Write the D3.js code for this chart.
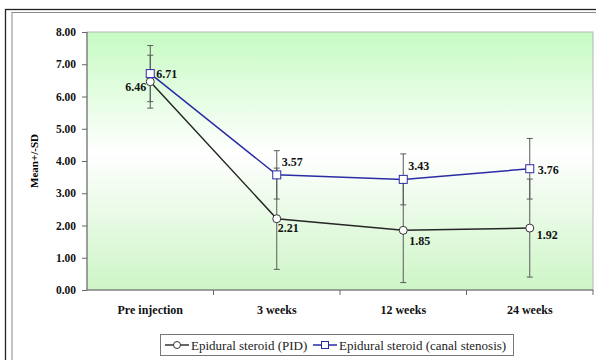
<!DOCTYPE html>
<html lang="en">
<head>
<meta charset="UTF-8">
<title>Mean +/- SD</title>
<script src="https://d3js.org/d3.v7.min.js"></script>
<style>
    body { margin: 0; background: #fff; }
    svg { display: block; font-family: 'Liberation Serif', 'DejaVu Serif', serif; }
    .axis text { font-family: 'Liberation Serif', 'DejaVu Serif', serif; font-size: 11.5px; font-weight: bold; fill: #111; }
    .axis path, .axis line { stroke: #666; }
    .lbl { font-size: 12px; font-weight: bold; fill: #111; }
</style>
</head>
<body>
<div id="chart"></div>
<script>
// data
const categories = ["Pre injection", "3 weeks", "12 weeks", "24 weeks"];
const pidMean = [6.46, 2.21, 1.85, 1.92];
const pidSD = [0.82, 1.57, 1.62, 1.52];
const canalMean = [6.71, 3.57, 3.43, 3.76];
const canalSD = [0.87, 0.75, 0.79, 0.94];
const yTicks = [0, 1, 2, 3, 4, 5, 6, 7, 8];
const seriesNames = ["Epidural steroid (PID)", "Epidural steroid (canal stenosis)"];

const W = 596, H = 360;
const plot = {left: 87, top: 32, right: 593, bottom: 290};

const svg = d3.select("#chart").append("svg")
    .attr("width", W).attr("height", H);

// outer frames
svg.append("rect").attr("x", 5.5).attr("y", 9.5).attr("width", 620).attr("height", 380)
    .attr("fill", "none").attr("stroke", "#222").attr("stroke-width", 1.3);
svg.append("rect").attr("x", 12).attr("y", 12.5).attr("width", 620).attr("height", 380)
    .attr("fill", "none").attr("stroke", "#888").attr("stroke-width", 1);

// plot background gradient
const defs = svg.append("defs");
const grad = defs.append("linearGradient").attr("id", "bg")
    .attr("x1", 0).attr("y1", 0).attr("x2", 0).attr("y2", 1);
grad.append("stop").attr("offset", "0%").attr("stop-color", "#c6fbc2");
grad.append("stop").attr("offset", "47%").attr("stop-color", "#ffffff");
grad.append("stop").attr("offset", "100%").attr("stop-color", "#cdf5c6");

svg.append("rect")
    .attr("x", plot.left).attr("y", plot.top)
    .attr("width", plot.right - plot.left).attr("height", plot.bottom - plot.top)
    .attr("fill", "url(#bg)").attr("stroke", "#b5b5b5");

const x = d3.scaleBand().domain(categories).range([plot.left, plot.right]).padding(0);
const y = d3.scaleLinear().domain([0, 8]).range([plot.bottom, plot.top]);
const cx = d => x(d) + x.bandwidth() / 2;

// y axis
const yAxis = svg.append("g").attr("class", "axis")
    .attr("transform", `translate(${plot.left},0)`)
    .call(d3.axisLeft(y).tickValues(yTicks).tickFormat(d3.format(".2f")).tickSize(5).tickPadding(6));
yAxis.select(".domain").attr("d", `M0,${plot.top}V${plot.bottom}`);

// x axis: labels at centers, ticks at band edges
const xAxis = svg.append("g").attr("class", "axis")
    .attr("transform", `translate(0,${plot.bottom})`)
    .call(d3.axisBottom(x).tickSize(0).tickPadding(15));
xAxis.select(".domain").attr("d", `M${plot.left},0H${plot.right}`);
xAxis.selectAll("text").style("font-size", "12px");
xAxis.selectAll(".edge")
    .data(categories.slice(1).concat(["end"]))
    .enter().append("line").attr("class", "edge")
    .attr("x1", (d, i) => plot.left + x.step() * (i + 1))
    .attr("x2", (d, i) => plot.left + x.step() * (i + 1))
    .attr("y1", 0).attr("y2", 5);

// y title
svg.append("text")
    .attr("transform", `translate(38,${(plot.top + plot.bottom) / 2}) rotate(-90)`)
    .attr("text-anchor", "middle")
    .style("font-size", "11px").style("font-weight", "bold")
    .text("Mean+/-SD");

const pid = categories.map((c, i) => ({c: c, m: pidMean[i], sd: pidSD[i]}));
const canal = categories.map((c, i) => ({c: c, m: canalMean[i], sd: canalSD[i]}));

// error bars
function errBars(data) {
    const g = svg.append("g").attr("stroke", "#5a5a5a").attr("stroke-width", 1);
    data.forEach(d => {
        const px = cx(d.c);
        g.append("line").attr("x1", px).attr("x2", px)
            .attr("y1", y(d.m + d.sd)).attr("y2", y(d.m - d.sd));
        [d.m + d.sd, d.m - d.sd].forEach(v => {
            g.append("line").attr("x1", px - 3).attr("x2", px + 3)
                .attr("y1", y(v)).attr("y2", y(v));
        });
    });
}
errBars(pid);
errBars(canal);

const line = d3.line().x(d => cx(d.c)).y(d => y(d.m));

svg.append("path").datum(pid).attr("d", line)
    .attr("fill", "none").attr("stroke", "#262626").attr("stroke-width", 1.5);
svg.append("path").datum(canal).attr("d", line)
    .attr("fill", "none").attr("stroke", "#2b2ba6").attr("stroke-width", 1.5);

svg.append("g").selectAll("circle").data(pid).enter().append("circle")
    .attr("cx", d => cx(d.c)).attr("cy", d => y(d.m)).attr("r", 4)
    .attr("fill", "#fff").attr("stroke", "#333").attr("stroke-width", 1);
svg.append("g").selectAll("rect").data(canal).enter().append("rect")
    .attr("x", d => cx(d.c) - 4).attr("y", d => y(d.m) - 4)
    .attr("width", 8).attr("height", 8)
    .attr("fill", "#fff").attr("stroke", "#2b2ba6").attr("stroke-width", 1);

// value labels (offsets per point)
const pidOff = [[-4, 9, "end"], [1, 13, "start"], [6, 15, "start"], [7, 11, "start"]];
const canalOff = [[6, 4, "start"], [5, -9, "start"], [5, -9, "start"], [8, 5, "start"]];
svg.append("g").selectAll("text").data(pid).enter().append("text")
    .attr("class", "lbl")
    .attr("x", (d, i) => cx(d.c) + pidOff[i][0])
    .attr("y", (d, i) => y(d.m) + pidOff[i][1])
    .attr("text-anchor", (d, i) => pidOff[i][2])
    .text(d => d.m.toFixed(2));
svg.append("g").selectAll("text").data(canal).enter().append("text")
    .attr("class", "lbl")
    .attr("x", (d, i) => cx(d.c) + canalOff[i][0])
    .attr("y", (d, i) => y(d.m) + canalOff[i][1])
    .attr("text-anchor", (d, i) => canalOff[i][2])
    .text(d => d.m.toFixed(2));

// legend
const lg = svg.append("g");
lg.append("rect").attr("x", 160.5).attr("y", 334.5).attr("width", 353).attr("height", 21)
    .attr("fill", "#fff").attr("stroke", "#777");
const items = [
    {name: seriesNames[0], x: 165, color: "#333", shape: "circle"},
    {name: seriesNames[1], x: 313, color: "#2b2ba6", shape: "square"}
];
items.forEach(it => {
    const ly = 345;
    lg.append("line").attr("x1", it.x).attr("x2", it.x + 24).attr("y1", ly).attr("y2", ly)
        .attr("stroke", it.color).attr("stroke-width", 1.5);
    if (it.shape === "circle") {
        lg.append("circle").attr("cx", it.x + 12).attr("cy", ly).attr("r", 3.5)
            .attr("fill", "#fff").attr("stroke", it.color);
    } else {
        lg.append("rect").attr("x", it.x + 8.5).attr("y", ly - 3.5).attr("width", 7).attr("height", 7)
            .attr("fill", "#fff").attr("stroke", it.color);
    }
    lg.append("text").attr("x", it.x + 26).attr("y", ly + 4.5)
        .style("font-size", "13px").attr("fill", "#222")
        .text(it.name);
});
</script>
</body>
</html>
